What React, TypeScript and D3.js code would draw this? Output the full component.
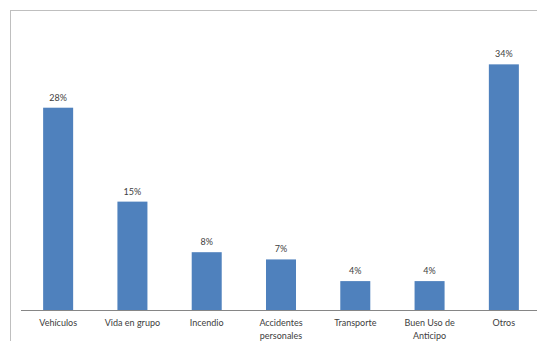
import React from "react";
import * as d3 from "d3";

const categories: string[][] = [
  ["Vehículos"],
  ["Vida en grupo"],
  ["Incendio"],
  ["Accidentes", "personales"],
  ["Transporte"],
  ["Buen Uso de", "Anticipo"],
  ["Otros"],
];
const values: number[] = [28, 15, 8, 7, 4, 4, 34];
const valueLabels: string[] = ["28%", "15%", "8%", "7%", "4%", "4%", "34%"];

const W = 537;
const H = 341;
const plotLeft = 21;
const plotRight = 541;
const baseY = 310;
const topY = 21;

export default function App() {
  const keys = categories.map((_, i) => String(i));
  const x = d3.scaleBand<string>().domain(keys).range([plotLeft, plotRight]).paddingInner(0.596).paddingOuter(0.298);
  const y = d3.scaleLinear().domain([0, 40]).range([baseY, topY]);
  const font = "Lato, 'Open Sans', sans-serif";
  return (
    <svg width={W} height={H} style={{ position: "absolute", left: 0, top: 0, background: "#fff" }}>
      <rect x={10.5} y={10.5} width={W} height={H} fill="#fff" stroke="#BFBFBF" strokeWidth={1} />
      {values.map((v, i) => {
        const bx = x(String(i))!;
        return (
          <g key={i}>
            <rect x={bx} y={y(v)} width={x.bandwidth()} height={baseY - y(v)} fill="#4F81BD" />
            <text x={bx + x.bandwidth() / 2} y={y(v) - 7} textAnchor="middle" fontSize={9} fontFamily={font} fill="#404040">
              {valueLabels[i]}
            </text>
          </g>
        );
      })}
      <line x1={plotLeft} x2={W} y1={baseY + 0.5} y2={baseY + 0.5} stroke="#868686" strokeWidth={1} />
      {categories.map((lines, i) => (
        <text key={i} x={x(String(i))! + x.bandwidth() / 2} y={326} textAnchor="middle" fontSize={9} fontFamily={font} fill="#404040">
          {lines.map((l, j) => (
            <tspan key={j} x={x(String(i))! + x.bandwidth() / 2} dy={j === 0 ? 0 : 13}>
              {l}
            </tspan>
          ))}
        </text>
      ))}
    </svg>
  );
}
